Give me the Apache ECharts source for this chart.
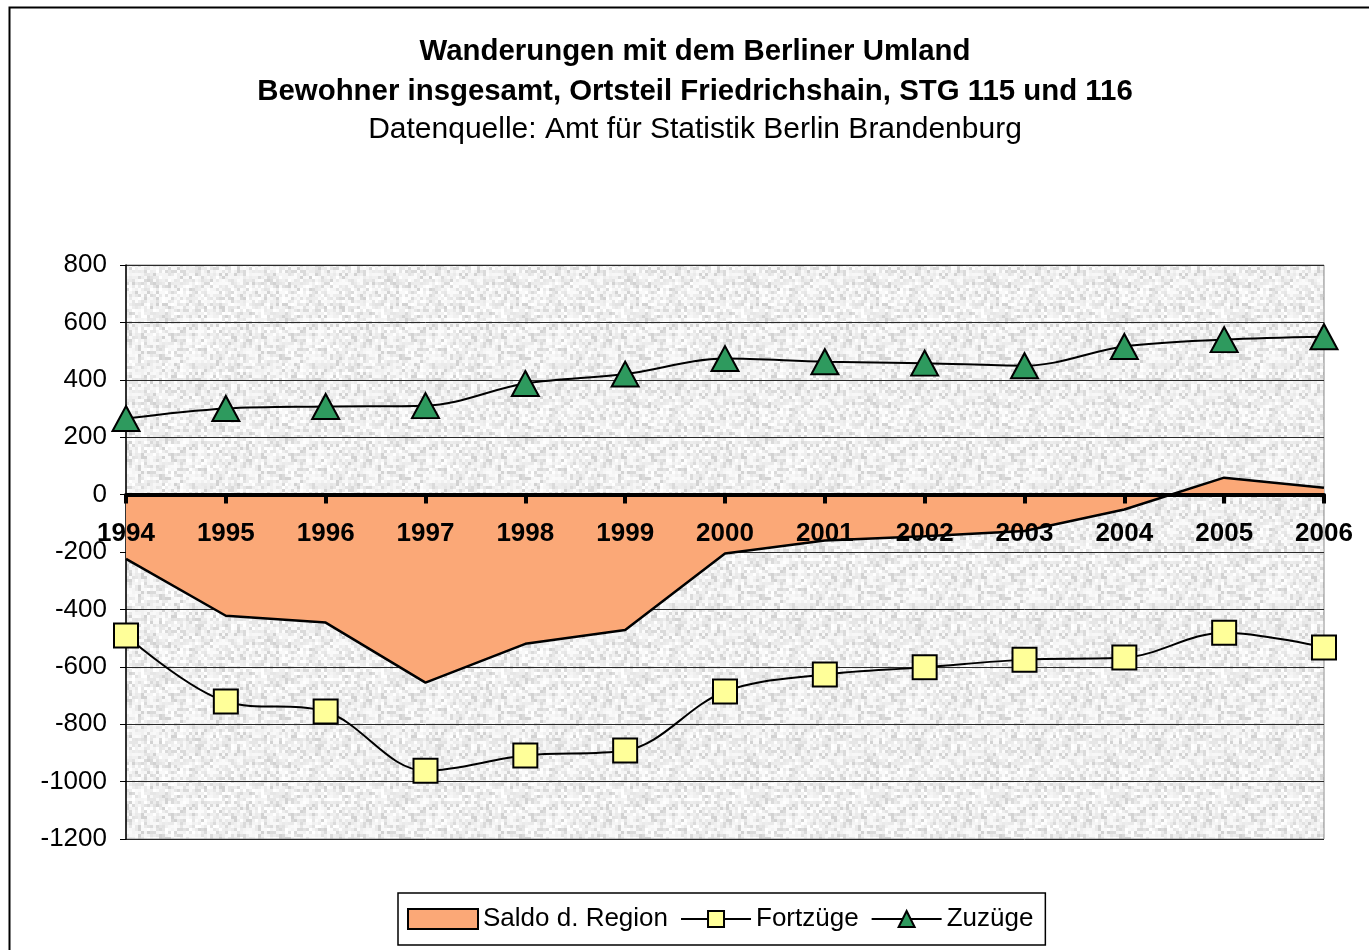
<!DOCTYPE html>
<html>
<head>
<meta charset="utf-8">
<script src="https://cdn.jsdelivr.net/npm/echarts@6/dist/echarts.min.js"></script>
<style>
html,body{margin:0;padding:0;background:#fff;}
#chart{width:1369px;height:950px;}
</style>
</head>
<body>
<div id="chart"></div>
<script>
const years = ['1994','1995','1996','1997','1998','1999','2000','2001','2002','2003','2004','2005','2006'];
const saldo = [-224, -422, -446, -655, -520, -472, -205, -160, -145, -127, -52, 59, 24];
const fortzuege = [-491, -721, -756, -962, -909, -892, -686, -627, -602, -575, -568, -481, -533];
const zuzuege = [265, 300, 307, 310, 387, 420, 474, 463, 458, 449, 516, 540, 550];
const yTicks = { min: -1200, max: 800, step: 200 };

const FONT = '"Liberation Sans", Arial, sans-serif';

// decorative granite texture for plot background (seeded, not data)
function makeTexture() {
  const c = document.createElement('canvas');
  c.width = 120; c.height = 120;
  const ctx = c.getContext('2d');
  ctx.fillStyle = '#EEEEEE';
  ctx.fillRect(0, 0, 120, 120);
  let s = 98765;
  const rnd = () => { s = (s * 1103515245 + 12345) & 0x7fffffff; return s / 0x7fffffff; };
  const shades = ['#F7F7F7', '#FBFBFB', '#F0F0F0', '#EAEAEA', '#F4F4F4', '#E2E2E2', '#DADADA', '#FFFFFF', '#EDEDED', '#F9F9F9', '#E6E6E6', '#D2D2D2'];
  for (let y = 0; y < 120; y += 3) {
    for (let x = 0; x < 120; x += 3) {
      const r = rnd();
      ctx.fillStyle = shades[Math.floor(r * shades.length)];
      ctx.fillRect(x, y, 3, 3);
    }
  }
  return c;
}

const chart = echarts.init(document.getElementById('chart'), null, { renderer: 'canvas' });

const titleBold = { fontFamily: FONT, fontSize: 29.4, fontWeight: 'bold', color: '#000', lineHeight: 34 };

const option = {
  backgroundColor: '#ffffff',
  animation: false,
  title: [
    { text: 'Wanderungen mit dem Berliner Umland', left: 695, textAlign: 'center', top: 35, padding: 0,
      textStyle: titleBold },
    { text: 'Bewohner insgesamt, Ortsteil Friedrichshain, STG 115 und 116', left: 695, textAlign: 'center', top: 75, padding: 0,
      textStyle: titleBold },
    { text: 'Datenquelle: Amt für Statistik Berlin Brandenburg', left: 695, textAlign: 'center', top: 113, padding: 0,
      textStyle: { fontFamily: FONT, fontSize: 30, fontWeight: 'normal', color: '#000', lineHeight: 34 } }
  ],
  graphic: [
    { type: 'rect', left: 7, top: 5, shape: { x: 0, y: 0, width: 1400, height: 1000 },
      style: { fill: 'none', stroke: '#000', lineWidth: 2 }, silent: true, z: 100 }
  ],
  legend: {
    left: 398, top: 893,
    padding: [11, 12, 11, 9],
    borderColor: '#000', borderWidth: 1.5, borderRadius: 0,
    itemWidth: 70, itemHeight: 20, itemGap: 12,
    textStyle: { fontFamily: FONT, fontSize: 26, color: '#000', lineHeight: 30 },
    data: [
      { name: 'Saldo d. Region', icon: 'rect', itemStyle: { color: '#FBA877', borderColor: '#000', borderWidth: 2 } },
      { name: 'Fortzüge' },
      { name: 'Zuzüge' }
    ]
  },
  grid: {
    left: 126, right: 45, top: 265, bottom: 111,
    show: true,
    backgroundColor: { image: makeTexture(), repeat: 'repeat' },
    borderColor: '#8c8c8c', borderWidth: 1
  },
  xAxis: {
    type: 'category',
    data: years,
    boundaryGap: false,
    z: 10,
    axisLine: { onZero: true, lineStyle: { color: '#000', width: 4 } },
    axisTick: { show: true, length: 9, inside: false, lineStyle: { color: '#000', width: 4 } },
    axisLabel: { margin: -318, fontFamily: FONT, fontSize: 26, fontWeight: 'bold', color: '#000' },
    splitLine: { show: false }
  },
  yAxis: {
    type: 'value',
    min: yTicks.min, max: yTicks.max, interval: yTicks.step,
    axisLine: { show: true, lineStyle: { color: '#000', width: 1.5 } },
    axisTick: { show: true, length: 6, lineStyle: { color: '#000', width: 1 } },
    axisLabel: { margin: 19, fontFamily: FONT, fontSize: 26, color: '#000',
      formatter: function (v) { return String(v); } },
    splitLine: { show: true, lineStyle: { color: '#2a2a2a', width: 1 } }
  },
  series: [
    {
      name: 'Saldo d. Region',
      type: 'line',
      data: saldo,
      showSymbol: false,
      symbol: 'none',
      smooth: false,
      z: 2,
      itemStyle: { color: '#FBA877' },
      lineStyle: { color: '#000', width: 2.5 },
      areaStyle: { color: '#FBA877', opacity: 1 }
    },
    {
      name: 'Fortzüge',
      type: 'line',
      data: fortzuege,
      smooth: 0.35,
      symbol: 'rect',
      symbolSize: 24,
      z: 3,
      itemStyle: { color: '#FFFF99', borderColor: '#000', borderWidth: 2 },
      lineStyle: { color: '#000', width: 2 }
    },
    {
      name: 'Zuzüge',
      type: 'line',
      data: zuzuege,
      smooth: 0.35,
      symbol: 'triangle',
      symbolSize: [27, 25],
      z: 3,
      itemStyle: { color: '#2E9A5E', borderColor: '#000', borderWidth: 2 },
      lineStyle: { color: '#000', width: 2 }
    }
  ]
};
chart.setOption(option);
</script>
</body>
</html>
